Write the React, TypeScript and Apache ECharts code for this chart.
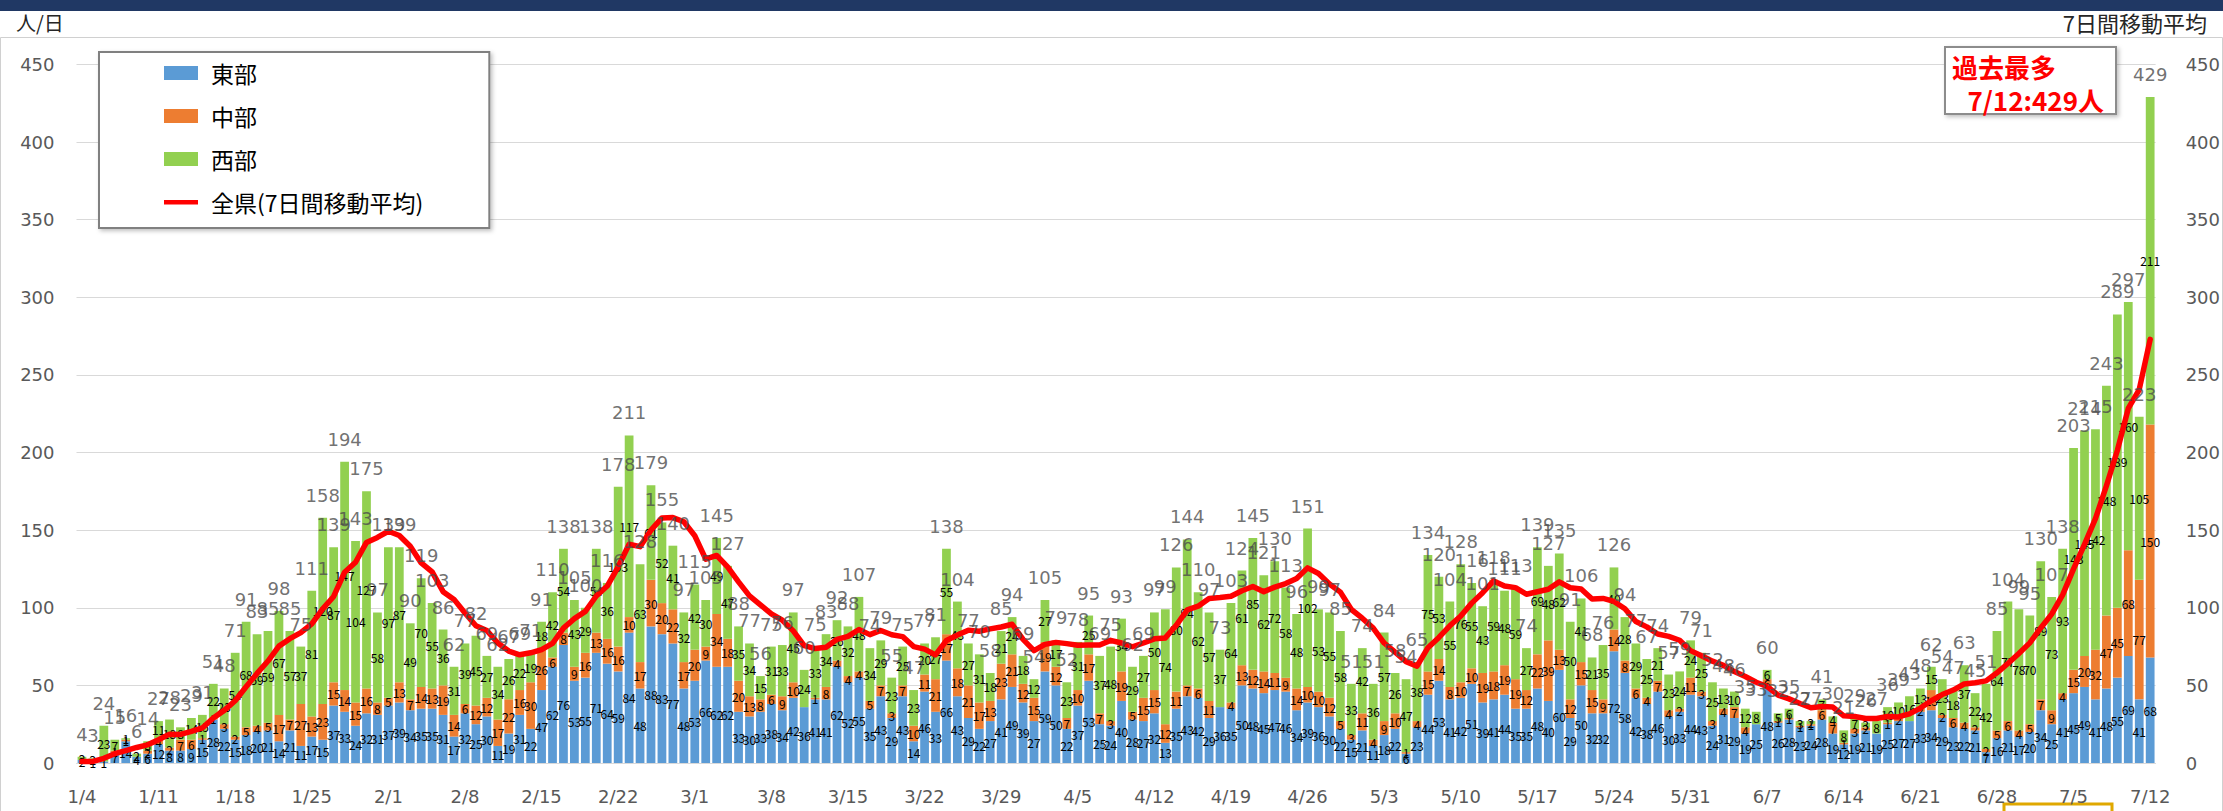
import React, { useEffect, useRef } from "react";
import * as echarts from "echarts";

// ---- data ----
const startYear = 2021;
const startMonthDay: [number, number] = [1, 4];
const dayCount = 190;

const eastValues = [
  2, 1, 1, 7, 14, 4, 6, 12, 8, 8,
  9, 15, 28, 22, 15, 18, 20, 21, 14, 21,
  11, 17, 15, 37, 33, 24, 32, 31, 37, 39,
  34, 35, 35, 31, 17, 32, 25, 30, 11, 19,
  31, 22, 47, 62, 76, 53, 55, 71, 64, 59,
  84, 48, 88, 83, 77, 48, 53, 66, 62, 62,
  33, 30, 33, 38, 34, 42, 36, 41, 41, 62,
  52, 55, 35, 43, 29, 43, 14, 46, 33, 66,
  43, 29, 22, 27, 41, 49, 39, 27, 59, 50,
  22, 37, 53, 25, 24, 40, 28, 27, 32, 13,
  35, 43, 42, 29, 36, 35, 50, 48, 45, 47,
  46, 34, 39, 36, 30, 22, 15, 21, 11, 18,
  22, 6, 23, 44, 53, 41, 42, 51, 39, 41,
  44, 35, 35, 48, 40, 60, 29, 50, 32, 32,
  72, 58, 42, 38, 46, 30, 33, 44, 43, 24,
  31, 29, 19, 25, 48, 26, 28, 23, 24, 28,
  19, 12, 19, 21, 19, 25, 27, 27, 33, 34,
  29, 23, 22, 21, 7, 16, 21, 17, 20, 34,
  25, 41, 45, 49, 41, 48, 55, 69, 41, 68,
];

const centralValues = [
  0, 0, 0, 1, 1, 0, 2, 4, 2, 7,
  6, 1, 1, 3, 2, 5, 4, 5, 17, 7,
  27, 13, 23, 15, 14, 15, 16, 8, 5, 13,
  7, 14, 13, 19, 14, 6, 12, 12, 17, 22,
  16, 30, 26, 6, 8, 9, 16, 13, 16, 16,
  10, 17, 30, 20, 22, 17, 20, 9, 34, 18,
  20, 13, 8, 6, 9, 10, 0, 1, 8, 4,
  4, 4, 5, 7, 3, 7, 10, 11, 21, 17,
  18, 21, 17, 13, 23, 21, 12, 15, 19, 12,
  7, 10, 17, 7, 3, 19, 5, 15, 15, 12,
  11, 7, 6, 11, 0, 4, 13, 12, 14, 11,
  9, 14, 10, 10, 12, 5, 3, 11, 4, 9,
  10, 1, 4, 15, 14, 8, 10, 10, 19, 18,
  19, 19, 12, 22, 39, 13, 12, 15, 15, 9,
  14, 8, 6, 4, 7, 4, 2, 11, 3, 3,
  4, 7, 4, 0, 6, 1, 1, 1, 1, 6,
  7, 1, 3, 2, 0, 1, 2, 0, 2, 13,
  2, 6, 4, 2, 2, 5, 6, 4, 5, 7,
  9, 4, 15, 20, 32, 47, 45, 68, 77, 150,
];

const westValues = [
  2, 2, 23, 7, 1, 2, 6, 11, 18, 8,
  14, 15, 22, 23, 54, 68, 59, 59, 67, 57,
  37, 81, 120, 87, 147, 104, 127, 58, 97, 87,
  49, 70, 55, 36, 31, 39, 45, 27, 34, 26,
  22, 19, 18, 42, 54, 43, 29, 54, 36, 103,
  117, 63, 61, 52, 41, 32, 42, 30, 49, 47,
  35, 34, 15, 31, 33, 45, 24, 33, 34, 26,
  32, 48, 34, 29, 23, 25, 23, 20, 27, 55,
  43, 27, 31, 18, 21, 24, 18, 12, 27, 17,
  23, 31, 25, 37, 48, 34, 29, 27, 50, 74,
  80, 94, 62, 57, 37, 64, 61, 85, 62, 72,
  58, 48, 102, 53, 55, 58, 33, 42, 36, 57,
  26, 47, 38, 75, 53, 55, 76, 55, 43, 59,
  48, 59, 27, 69, 48, 62, 50, 41, 21, 35,
  40, 28, 29, 25, 21, 23, 24, 24, 25, 25,
  13, 10, 12, 8, 6, 5, 6, 3, 2, 7,
  4, 8, 7, 3, 8, 10, 10, 16, 13, 15,
  23, 18, 37, 22, 42, 64, 77, 78, 70, 89,
  73, 93, 143, 145, 142, 148, 189, 160, 105, 211,
];

// moving average of the first six days (needs days before 1/4)
const averageHead = [1, 1, 3, 6, 8, 10];

const yTicks = [0, 50, 100, 150, 200, 250, 300, 350, 400, 450];

const seriesNames = ["東部", "中部", "西部", "全県(7日間移動平均)"];
const unitLabel = "人/日";
const rightLabel = "7日間移動平均";
const noteLines = ["過去最多", "7/12:429人"];

// ---- derived ----
function buildDates(): string[] {
  const out: string[] = [];
  const d = new Date(startYear, startMonthDay[0] - 1, startMonthDay[1]);
  for (let i = 0; i < dayCount; i++) {
    out.push(`${d.getMonth() + 1}/${d.getDate()}`);
    d.setDate(d.getDate() + 1);
  }
  return out;
}
const categories = buildDates();
const totals = eastValues.map((v, i) => v + centralValues[i] + westValues[i]);
const weeklyAverage = totals.map((_, i) => {
  if (i < averageHead.length) return averageHead[i];
  let s = 0;
  for (let k = i - 6; k <= i; k++) s += totals[k];
  return Math.round((s / 7) * 10) / 10;
});

const FONT = "'Noto Sans CJK JP', 'Noto Sans', sans-serif";
const NUMFONT = "'DejaVu Sans', 'Noto Sans', sans-serif";
// thin line icon: invisible corner points keep the full 34x14 box, visible bar in the middle
const LINE_ICON = "path://M0,0L0.01,0Z M0,5L34,5L34,9.5L0,9.5Z M34,14L33.99,14Z";

export default function App() {
  const ref = useRef<HTMLDivElement>(null);
  useEffect(() => {
    if (!ref.current) return;
    const chart = echarts.init(ref.current, undefined, { renderer: "svg" });
    const innerLabel = {
      show: true,
      position: "inside",
      fontSize: 12,
      color: "#000",
      fontFamily: FONT,
      formatter: (p: any) => (p.value > 0 ? String(p.value) : ""),
    };
    const yAxisBase = {
      type: "value",
      min: yTicks[0],
      max: yTicks[yTicks.length - 1],
      interval: yTicks[1] - yTicks[0],
      axisLine: { show: false },
      axisTick: { show: false },
    };
    chart.setOption({
      animation: false,
      backgroundColor: "#ffffff",
      textStyle: { fontFamily: FONT },
      grid: { left: 76.5, right: 62.7, top: 64.5, bottom: 48, containLabel: false },
      legend: {
        orient: "vertical",
        left: 99,
        top: 52,
        data: [
          { name: seriesNames[0], icon: "rect" },
          { name: seriesNames[1], icon: "rect" },
          { name: seriesNames[2], icon: "rect" },
          { name: seriesNames[3], icon: LINE_ICON, itemStyle: { color: "#FF0000" } },
        ],
        itemWidth: 34,
        itemHeight: 14,
        itemGap: 19,
        padding: [9, 66, 14, 65],
        backgroundColor: "#ffffff",
        borderColor: "#808080",
        borderWidth: 2,
        shadowColor: "rgba(0,0,0,0.25)",
        shadowBlur: 4,
        shadowOffsetX: 2,
        shadowOffsetY: 2,
        textStyle: {
          fontSize: 23,
          color: "#000",
          fontFamily: FONT,
          lineHeight: 24,
          padding: [0, 0, 0, 8],
        },
      },
      xAxis: {
        type: "category",
        data: categories,
        boundaryGap: true,
        axisLine: { show: true, lineStyle: { color: "#D9D9D9", width: 1 } },
        axisTick: { show: false },
        axisLabel: {
          interval: (idx: number) => idx % 7 === 0,
          fontSize: 18,
          color: "#595959",
          margin: 24,
          fontFamily: NUMFONT,
        },
      },
      yAxis: [
        {
          ...yAxisBase,
          position: "left",
          splitLine: { show: true, lineStyle: { color: "#D9D9D9", width: 1 } },
          axisLabel: { fontSize: 18, color: "#595959", margin: 22, fontFamily: NUMFONT },
        },
        {
          ...yAxisBase,
          position: "right",
          splitLine: { show: false },
          axisLabel: { fontSize: 18, color: "#595959", margin: 30, fontFamily: NUMFONT },
        },
      ],
      series: [
        {
          name: seriesNames[0],
          type: "bar",
          stack: "all",
          data: eastValues,
          barCategoryGap: "20%",
          itemStyle: { color: "#5B9BD5" },
          label: innerLabel,
        },
        {
          name: seriesNames[1],
          type: "bar",
          stack: "all",
          data: centralValues,
          itemStyle: { color: "#ED7D31" },
          label: innerLabel,
        },
        {
          name: seriesNames[2],
          type: "bar",
          stack: "all",
          data: westValues,
          itemStyle: { color: "#92D050" },
          label: innerLabel,
        },
        {
          name: seriesNames[3],
          type: "line",
          data: weeklyAverage,
          symbol: "none",
          showSymbol: false,
          smooth: false,
          z: 5,
          itemStyle: { color: "#FF0000" },
          lineStyle: { color: "#FF0000", width: 5.5, join: "round", cap: "round" },
        },
        {
          name: "合計",
          type: "scatter",
          data: totals,
          symbolSize: 1,
          z: 6,
          itemStyle: { color: "rgba(0,0,0,0)" },
          label: {
            show: true,
            position: "top",
            distance: 13,
            fontSize: 18,
            color: "#4D4D4D",
            fontFamily: NUMFONT,
          },
          silent: true,
        },
      ],
      graphic: [
        { type: "rect", left: 0, top: 0, shape: { width: 2223, height: 11 }, style: { fill: "#203864" } },
        {
          type: "rect",
          shape: { x: 0.5, y: 37.5, width: 2222, height: 790 },
          style: { fill: "none", stroke: "#D0D0D0", lineWidth: 1 },
          silent: true,
        },
        {
          type: "text",
          x: 16,
          y: 22,
          style: { text: unitLabel, fontSize: 20, fill: "#262626", fontFamily: FONT, verticalAlign: "middle" },
        },
        {
          type: "text",
          x: 2207,
          y: 22,
          style: {
            text: rightLabel,
            fontSize: 22,
            fill: "#262626",
            fontFamily: FONT,
            align: "right",
            verticalAlign: "middle",
          },
        },
        {
          type: "rect",
          shape: { x: 1945, y: 47, width: 171, height: 67 },
          style: {
            fill: "#ffffff",
            stroke: "#8C8C8C",
            lineWidth: 2,
            shadowColor: "rgba(0,0,0,0.25)",
            shadowBlur: 4,
            shadowOffsetX: 2,
            shadowOffsetY: 2,
          },
          z: 10,
        },
        {
          type: "text",
          x: 1952,
          y: 66,
          z: 11,
          style: {
            text: noteLines[0],
            fontSize: 26,
            fontWeight: "bold",
            fill: "#FF0000",
            fontFamily: FONT,
            verticalAlign: "middle",
          },
        },
        {
          type: "text",
          x: 2104,
          y: 99,
          z: 11,
          style: {
            text: noteLines[1],
            fontSize: 26,
            fontWeight: "bold",
            fill: "#FF0000",
            fontFamily: FONT,
            align: "right",
            verticalAlign: "middle",
          },
        },
        {
          type: "polyline",
          shape: { points: [[2004, 811], [2004, 804], [2112, 804], [2112, 811]] },
          style: { stroke: "#E0A800", lineWidth: 3, fill: "none" },
        },
      ],
    });
    return () => chart.dispose();
  }, []);
  return (
    <div
      ref={ref}
      style={{ position: "absolute", left: 0, top: 0, width: 2223, height: 811 }}
    />
  );
}
